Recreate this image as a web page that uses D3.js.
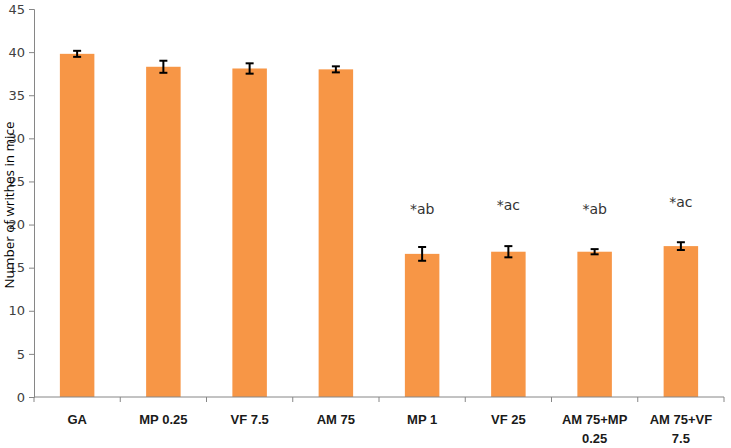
<!DOCTYPE html>
<html>
<head>
<meta charset="utf-8">
<script src="https://cdn.jsdelivr.net/npm/d3@7"></script>
<style>
  body { margin: 0; background: #fff; }
  .tick text { font-family: "DejaVu Sans", sans-serif; }
</style>
</head>
<body>
<div id="chart"></div>
<script>
var svgWidth = 731;
var svgHeight = 448;

var margin = { top: 9, right: 7, bottom: 51, left: 34 };

// data
var groups = ["GA", "MP 0.25", "VF 7.5", "AM 75", "MP 1", "VF 25", "AM 75+MP|0.25", "AM 75+VF|7.5"];
var means = [39.8, 38.3, 38.1, 38.0, 16.6, 16.85, 16.85, 17.5];
var errors = [0.35, 0.7, 0.6, 0.35, 0.8, 0.65, 0.3, 0.45];
var marks = ["", "", "", "", "*ab", "*ac", "*ab", "*ac"];
var markY = [0, 0, 0, 0, 21.8, 22.3, 21.8, 22.6];
var yTicks = [0, 5, 10, 15, 20, 25, 30, 35, 40, 45];

var width = svgWidth - margin.left - margin.right;
var height = svgHeight - margin.top - margin.bottom;

var svg = d3.select("#chart")
  .append("svg")
  .attr("width", svgWidth)
  .attr("height", svgHeight);

var chartGroup = svg.append("g")
  .attr("transform", `translate(${margin.left}, ${margin.top})`);

var xScale = d3.scaleBand()
  .domain(groups)
  .range([0, width])
  .paddingInner(0.6)
  .paddingOuter(0.3);

var yScale = d3.scaleLinear()
  .domain([0, 45])
  .range([height, 0]);

// y axis
var leftAxis = d3.axisLeft(yScale).tickValues(yTicks).tickSize(5).tickPadding(4);
var yAxis = chartGroup.append("g").call(leftAxis);
yAxis.select(".domain").attr("stroke", "#868686");
yAxis.selectAll(".tick line").attr("stroke", "#868686");
yAxis.selectAll(".tick text")
  .attr("fill", "#404040")
  .style("font-size", "13px");

// bars
chartGroup.selectAll(".bar")
  .data(groups)
  .enter()
  .append("rect")
  .attr("class", "bar")
  .attr("x", d => xScale(d))
  .attr("y", (d, i) => yScale(means[i]))
  .attr("width", xScale.bandwidth())
  .attr("height", (d, i) => height - yScale(means[i]))
  .attr("fill", "#F79646");

// error bars
var errGroup = chartGroup.selectAll(".err")
  .data(groups)
  .enter()
  .append("g")
  .attr("class", "err")
  .attr("transform", d => `translate(${xScale(d) + xScale.bandwidth() / 2}, 0)`);

errGroup.append("line")
  .attr("y1", (d, i) => yScale(means[i] + errors[i]))
  .attr("y2", (d, i) => yScale(means[i] - errors[i]))
  .attr("stroke", "#000")
  .attr("stroke-width", 2);
errGroup.append("line")
  .attr("x1", -4).attr("x2", 4)
  .attr("y1", (d, i) => yScale(means[i] + errors[i]))
  .attr("y2", (d, i) => yScale(means[i] + errors[i]))
  .attr("stroke", "#000")
  .attr("stroke-width", 2);
errGroup.append("line")
  .attr("x1", -4).attr("x2", 4)
  .attr("y1", (d, i) => yScale(means[i] - errors[i]))
  .attr("y2", (d, i) => yScale(means[i] - errors[i]))
  .attr("stroke", "#000")
  .attr("stroke-width", 2);

// significance marks
errGroup.filter((d, i) => marks[i] !== "")
  .append("text")
  .attr("y", d => yScale(markY[groups.indexOf(d)]))
  .attr("text-anchor", "middle")
  .attr("dy", "0.35em")
  .style("font-family", "'DejaVu Sans', sans-serif")
  .style("font-size", "14px")
  .attr("fill", "#333")
  .text(d => marks[groups.indexOf(d)]);

// x axis line with ticks between categories
chartGroup.append("line")
  .attr("x1", 0).attr("x2", width)
  .attr("y1", height).attr("y2", height)
  .attr("stroke", "#868686");

var boundaries = d3.range(groups.length + 1).map(i => i * width / groups.length);
chartGroup.selectAll(".xtick")
  .data(boundaries)
  .enter()
  .append("line")
  .attr("x1", d => d).attr("x2", d => d)
  .attr("y1", height).attr("y2", height + 5)
  .attr("stroke", "#868686");

// x labels
var xLabels = chartGroup.selectAll(".xlabel")
  .data(groups)
  .enter()
  .append("text")
  .attr("class", "xlabel")
  .attr("transform", d => `translate(${xScale(d) + xScale.bandwidth() / 2}, ${height + 27})`)
  .attr("text-anchor", "middle")
  .style("font-family", "'Liberation Sans', Arial, sans-serif")
  .style("font-weight", "bold")
  .style("font-size", "13px")
  .attr("fill", "#1a1a1a");

xLabels.selectAll("tspan")
  .data(d => d.split("|"))
  .enter()
  .append("tspan")
  .attr("x", 0)
  .attr("dy", (d, i) => i === 0 ? 0 : 19)
  .text(d => d);

// y axis title
svg.append("text")
  .attr("transform", `translate(14, ${margin.top + height / 2 + 2}) rotate(-90)`)
  .attr("text-anchor", "middle")
  .style("font-family", "'Open Sans', sans-serif")
  .style("font-size", "13.5px")
  .attr("fill", "#000")
  .text("Number of writhes in mice");
</script>
</body>
</html>
